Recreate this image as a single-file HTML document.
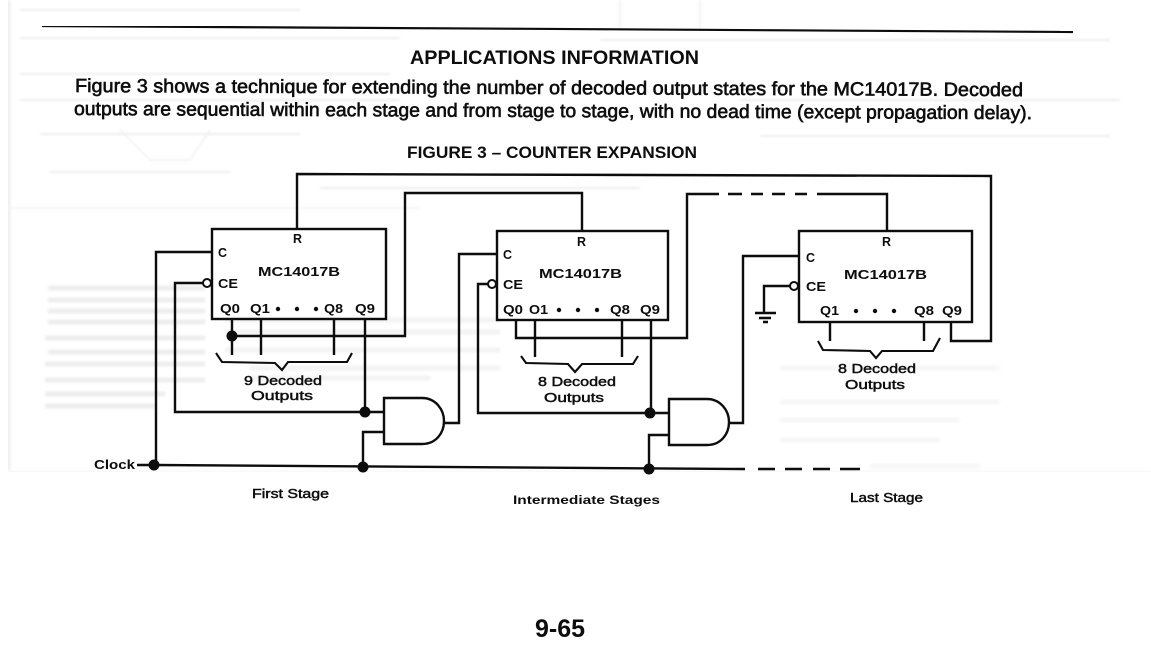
<!DOCTYPE html>
<html>
<head>
<meta charset="utf-8">
<title>MC14017B Counter Expansion</title>
<style>
html,body{margin:0;padding:0;background:#fff;width:1151px;height:658px;overflow:hidden}
svg{display:block}
text{font-family:"Liberation Sans",sans-serif;fill:#0a0a0a}
.b{font-weight:700}
.w{fill:none;stroke:#0a0a0a;stroke-width:2.4;stroke-linejoin:miter}
.t{fill:none;stroke:#0a0a0a;stroke-width:2.1}
.l{font-size:12.5px;font-weight:700}
.s{font-size:13px;stroke:#0a0a0a;stroke-width:.45px}
.h{font-size:19px;font-weight:700}
.p{font-size:19px;stroke:#0a0a0a;stroke-width:.6px}
</style>
</head>
<body>
<svg width="1151" height="658" viewBox="0 0 1151 658" xmlns="http://www.w3.org/2000/svg">
<defs>
  <filter id="soft" x="0" y="0" width="100%" height="100%"><feGaussianBlur stdDeviation="0.35"/></filter>
  <filter id="ghost" x="0" y="0" width="100%" height="100%"><feGaussianBlur stdDeviation="1"/></filter>
</defs>
<rect width="1151" height="658" fill="#fff"/>

<!-- faint show-through from reverse page -->
<g fill="none" filter="url(#ghost)">
  <path d="M8 0V470" stroke="#efefef" stroke-width="5"/>
  <path d="M8 472H1151" stroke="#f1f1f1" stroke-width="1.5"/>
  <path d="M8 208H420" stroke="#f1f1f1" stroke-width="1.5"/>
  <path d="M20 10H300M20 38H400M600 40H1110M20 74H390M20 100H400M740 100H1120M40 134H300M760 136H1110M50 172H230M320 188H640" stroke="#eeeeee" stroke-width="2"/>
  <path d="M120 130L150 160H190L210 130M620 0V30M700 0V30" stroke="#f0f0f0" stroke-width="1.5"/>
  <path d="M48 288H205M48 300H205M48 311H205M48 322H205M45 338H205M48 352H205M45 364H205M45 380H205M45 394H165M45 406H155" stroke="#eeeeee" stroke-width="5"/>
  <path d="M225 320H500M225 332H500M225 350H500M250 368H500M250 378H430" stroke="#f3f3f3" stroke-width="5"/>
  <path d="M780 368H1000M780 402H1000M780 420H960M780 440H940M870 466H980" stroke="#f7f7f7" stroke-width="5"/>
</g>

<g filter="url(#soft)">
<!-- top rule -->
<path d="M42 26L1073 32" stroke="#0a0a0a" stroke-width="2.2" fill="none"/>

<!-- header text -->
<text class="h" x="410" y="64" textLength="289" lengthAdjust="spacingAndGlyphs">APPLICATIONS INFORMATION</text>
<text class="p" x="75" y="92" textLength="948" lengthAdjust="spacingAndGlyphs" transform="rotate(0.25 75 92)">Figure 3 shows a technique for extending the number of decoded output states for the MC14017B.  Decoded</text>
<text class="p" x="74" y="115" textLength="958" lengthAdjust="spacingAndGlyphs" transform="rotate(0.25 74 115)">outputs are sequential within each stage and from stage to stage, with no dead time (except propagation delay).</text>
<text class="h" x="407" y="158" style="font-size:16.5px" textLength="290" lengthAdjust="spacingAndGlyphs">FIGURE 3 – COUNTER EXPANSION</text>

<!-- boxes -->
<rect class="w" x="212" y="229" width="174" height="90"/>
<rect class="w" x="497" y="231" width="171" height="89"/>
<rect class="w" x="799" y="231" width="173" height="91"/>

<!-- reset loop -->
<path class="w" d="M297 229V174L991 176V341H951V322"/>
<!-- stage 1 Q0 to stage 2 R -->
<path class="w" d="M232 319V355M232 336H405V193H582V231"/>
<path class="w" d="M261 319V355M334 319V355"/>
<path class="w" d="M365 319V412"/>
<path class="w" d="M205 283H175V412H384"/>
<!-- clock -->
<path class="w" d="M137 465H154L745 469"/>
<path class="w" d="M212 252H156V465"/>
<path class="w" d="M384 432H363V467"/>
<!-- AND 1 -->
<path class="w" d="M384 398H422C436 398 444 410 444 421C444 433 436 444 422 444H384Z" fill="#fff"/>
<path class="w" d="M444 423H459V254H497"/>
<!-- stage 2 -->
<path class="w" d="M516 320V338H687V194H719M728 194H742M751 194H763M772 194H785M795 194H807M817 194H887V231"/>
<path class="w" d="M535 320V357M622 320V357"/>
<path class="w" d="M651 320V413"/>
<path class="w" d="M488 284H478V413H669"/>
<path class="w" d="M669 435H649V469"/>
<path class="w" d="M669 399H707C721 399 729 411 729 422C729 434 721 445 707 445H669Z" fill="#fff"/>
<path class="w" d="M729 423H743V256H799"/>
<!-- stage 3 -->
<path class="w" d="M790 286H764V312"/>
<path class="w" d="M755 313H776M759 318H771M763 322H768"/>
<path class="w" d="M830 322V341M924 322V341"/>
<!-- dashed clock -->
<path class="w" d="M758 469H775M785 469H802M813 469H830M840 469H860"/>

<!-- inverter bubbles -->
<circle cx="207" cy="283" r="4" fill="#fff" stroke="#0a0a0a" stroke-width="2"/>
<circle cx="492" cy="284" r="4" fill="#fff" stroke="#0a0a0a" stroke-width="2"/>
<circle cx="794" cy="286" r="4" fill="#fff" stroke="#0a0a0a" stroke-width="2"/>

<!-- junction dots -->
<g fill="#0a0a0a">
  <circle cx="232" cy="336" r="5.5"/>
  <circle cx="365" cy="412" r="5.5"/>
  <circle cx="154" cy="465" r="5.5"/>
  <circle cx="363" cy="467" r="5.5"/>
  <circle cx="650" cy="413" r="5.5"/>
  <circle cx="649" cy="469" r="5.5"/>
  <!-- ellipsis dots -->
  <circle cx="278" cy="309" r="2.2"/><circle cx="297" cy="309" r="2.2"/><circle cx="316" cy="309" r="2.2"/>
  <circle cx="559" cy="310" r="2.2"/><circle cx="578" cy="310" r="2.2"/><circle cx="597" cy="310" r="2.2"/>
  <circle cx="856" cy="311" r="2.2"/><circle cx="875" cy="311" r="2.2"/><circle cx="894" cy="311" r="2.2"/>
</g>

<!-- braces -->
<path class="t" d="M216 353L222 362L275 363L282 370L288 362L347 362L352 353"/>
<path class="t" d="M521 356L526 363L568 364L575 372L582 364L633 364L638 356"/>
<path class="t" d="M818 341L823 350L870 351L876 358L882 351L933 351L940 338"/>

<!-- box 1 labels -->
<text class="l" x="293" y="243" textLength="9" lengthAdjust="spacingAndGlyphs">R</text>
<text class="l" x="218" y="257" textLength="9" lengthAdjust="spacingAndGlyphs">C</text>
<text class="l" x="258" y="276" textLength="82" lengthAdjust="spacingAndGlyphs">MC14017B</text>
<text class="l" x="218" y="288" textLength="20" lengthAdjust="spacingAndGlyphs">CE</text>
<text class="l" x="220" y="313" textLength="20" lengthAdjust="spacingAndGlyphs">Q0</text>
<text class="l" x="250" y="313" textLength="20" lengthAdjust="spacingAndGlyphs">Q1</text>
<text class="l" x="324" y="313" textLength="19" lengthAdjust="spacingAndGlyphs">Q8</text>
<text class="l" x="355" y="313" textLength="20" lengthAdjust="spacingAndGlyphs">Q9</text>
<text class="s" x="244" y="385" textLength="78" lengthAdjust="spacingAndGlyphs">9 Decoded</text>
<text class="s" x="251" y="400" textLength="62" lengthAdjust="spacingAndGlyphs">Outputs</text>

<!-- box 2 labels -->
<text class="l" x="577" y="246" textLength="9" lengthAdjust="spacingAndGlyphs">R</text>
<text class="l" x="503" y="259" textLength="9" lengthAdjust="spacingAndGlyphs">C</text>
<text class="l" x="539" y="278" textLength="83" lengthAdjust="spacingAndGlyphs">MC14017B</text>
<text class="l" x="503" y="289" textLength="20" lengthAdjust="spacingAndGlyphs">CE</text>
<text class="l" x="503" y="314" textLength="20" lengthAdjust="spacingAndGlyphs">Q0</text>
<text class="l" x="529" y="314" textLength="19" lengthAdjust="spacingAndGlyphs">O1</text>
<text class="l" x="610" y="314" textLength="20" lengthAdjust="spacingAndGlyphs">Q8</text>
<text class="l" x="640" y="314" textLength="20" lengthAdjust="spacingAndGlyphs">Q9</text>
<text class="s" x="538" y="386" textLength="78" lengthAdjust="spacingAndGlyphs">8 Decoded</text>
<text class="s" x="544" y="402" textLength="60" lengthAdjust="spacingAndGlyphs">Outputs</text>

<!-- box 3 labels -->
<text class="l" x="882" y="246" textLength="9" lengthAdjust="spacingAndGlyphs">R</text>
<text class="l" x="806" y="262" textLength="9" lengthAdjust="spacingAndGlyphs">C</text>
<text class="l" x="844" y="279" textLength="83" lengthAdjust="spacingAndGlyphs">MC14017B</text>
<text class="l" x="806" y="291" textLength="20" lengthAdjust="spacingAndGlyphs">CE</text>
<text class="l" x="820" y="315" textLength="19" lengthAdjust="spacingAndGlyphs">Q1</text>
<text class="l" x="914" y="315" textLength="20" lengthAdjust="spacingAndGlyphs">Q8</text>
<text class="l" x="942" y="315" textLength="20" lengthAdjust="spacingAndGlyphs">Q9</text>
<text class="s" x="838" y="373" textLength="78" lengthAdjust="spacingAndGlyphs">8 Decoded</text>
<text class="s" x="845" y="389" textLength="60" lengthAdjust="spacingAndGlyphs">Outputs</text>

<!-- bottom labels -->
<text class="l" x="94" y="469" textLength="41" lengthAdjust="spacingAndGlyphs">Clock</text>
<text class="s" x="252" y="498" textLength="77" lengthAdjust="spacingAndGlyphs">First Stage</text>
<text class="l" x="513" y="504" style="font-size:12px" textLength="147" lengthAdjust="spacingAndGlyphs">Intermediate Stages</text>
<text class="s" x="850" y="502" textLength="73" lengthAdjust="spacingAndGlyphs">Last Stage</text>

<!-- page number -->
<text class="b" x="535" y="637" font-size="25" textLength="50" lengthAdjust="spacingAndGlyphs">9-65</text>
</g>
</svg>
</body>
</html>
